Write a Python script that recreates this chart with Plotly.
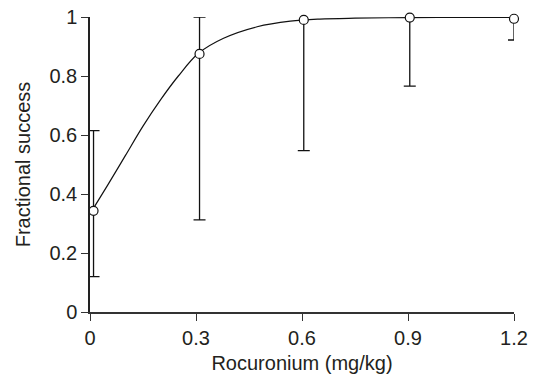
import plotly.graph_objects as go

# Observed data (dose, fractional success, CI bounds)
dose = [0.01, 0.31, 0.605, 0.905, 1.2]
success = [0.343, 0.875, 0.99, 0.998, 0.994]
ci_upper = [0.615, 1.0, 1.004, 1.01, 1.01]
ci_lower = [0.12, 0.312, 0.547, 0.766, 0.922]

# Fitted curve
curve_x = [0.007, 0.05, 0.1, 0.15, 0.2, 0.25, 0.307, 0.378, 0.473, 0.567, 0.65, 0.75, 0.905, 1.05, 1.2]
curve_y = [0.346, 0.43, 0.53, 0.63, 0.72, 0.80, 0.877, 0.928, 0.967, 0.986, 0.993, 0.996, 0.998, 0.999, 0.999]

x_ticks = [0, 0.3, 0.6, 0.9, 1.2]
x_ticktext = ["0", "0.3", "0.6", "0.9", "1.2"]
y_ticks = [0, 0.2, 0.4, 0.6, 0.8, 1.0]
y_ticktext = ["0", "0.2", "0.4", "0.6", "0.8", "1"]

err_plus = [u - s for u, s in zip(ci_upper, success)]
err_minus = [s - l for s, l in zip(success, ci_lower)]

fig = go.Figure()
fig.add_trace(go.Scatter(
    x=curve_x, y=curve_y, mode="lines",
    line=dict(color="#111111", width=1.2, shape="spline", smoothing=1.0),
    hoverinfo="skip", cliponaxis=False, showlegend=False,
))
fig.add_trace(go.Scatter(
    x=dose, y=success, mode="markers",
    marker=dict(symbol="circle", size=9, color="white",
                line=dict(color="#111111", width=1.2)),
    error_y=dict(type="data", symmetric=False, array=err_plus, arrayminus=err_minus,
                 color="#111111", thickness=1.3, width=6),
    cliponaxis=False, showlegend=False,
))

font = dict(family="Liberation Sans, Arial, sans-serif", size=20, color="#231f20")
fig.update_layout(
    width=536, height=383,
    margin=dict(l=90, r=22, t=17, b=71),
    paper_bgcolor="white", plot_bgcolor="white",
    font=font,
    xaxis=dict(
        range=[0, 1.2], tickvals=x_ticks, ticktext=x_ticktext,
        showgrid=False, zeroline=False, showline=True, linecolor="#333333", linewidth=1.5,
        ticks="outside", ticklen=7, tickwidth=1.2, tickcolor="#333333",
        title=dict(text="Rocuronium (mg/kg)", standoff=8, font=font),
        tickfont=font, automargin=False,
    ),
    yaxis=dict(
        range=[0, 1], tickvals=y_ticks, ticktext=y_ticktext,
        showgrid=False, zeroline=False, showline=True, linecolor="#222222", linewidth=1.5,
        ticks="outside", ticklen=7, tickwidth=1.2, tickcolor="#333333",
        title=dict(text="Fractional success", standoff=13, font=font),
        tickfont=font, automargin=False,
    ),
)

# Remove the default 8px page margin so the figure fills the window exactly.
fig.write_html(
    "out.html",
    config={"displayModeBar": False},
    post_script="document.body.style.margin='0';document.body.style.overflow='hidden';",
)
